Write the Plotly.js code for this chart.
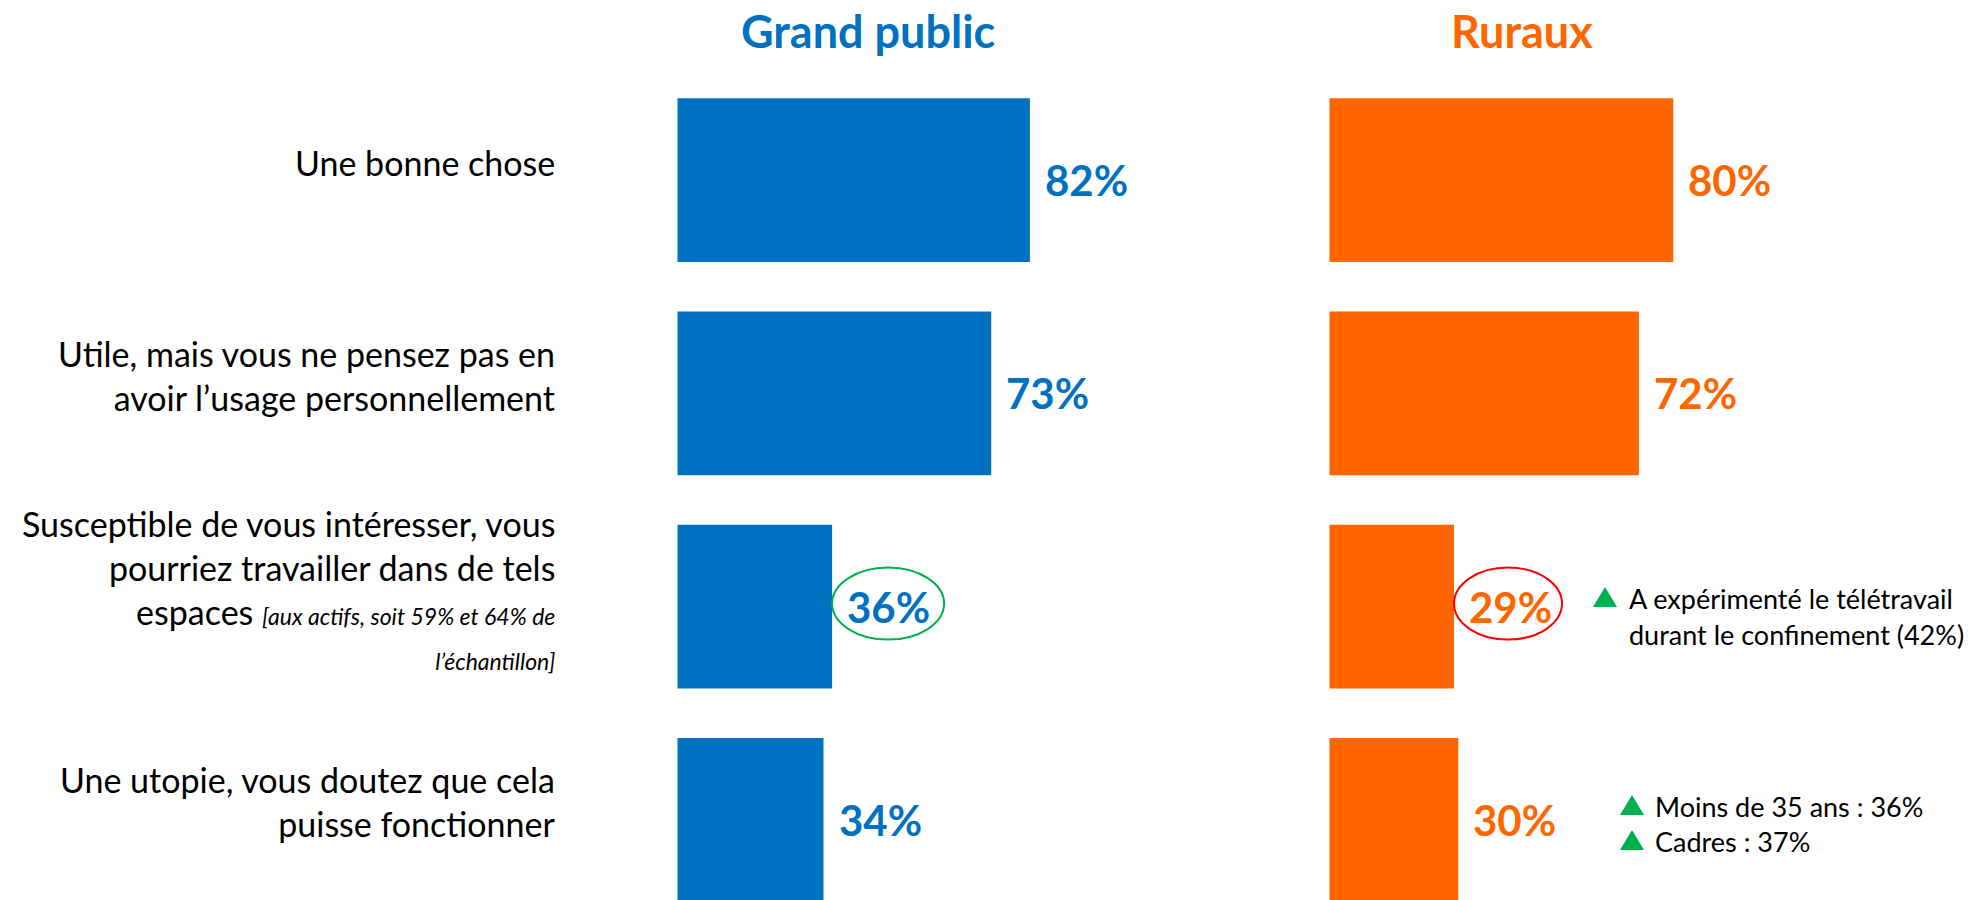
<!DOCTYPE html>
<html>
<head>
<meta charset="utf-8">
<script src="https://cdn.plot.ly/plotly-3.0.1.min.js"></script>
<style>
  html, body { margin: 0; padding: 0; background: #ffffff; }
  #chart { width: 1972px; height: 900px; }
</style>
</head>
<body>
<div id="chart"></div>
<script>
// ---- Data ----
const categories = [
  "Une bonne chose",
  "Utile, mais vous ne pensez pas en<br>avoir l’usage personnellement",
  "Susceptible de vous intéresser, vous<br>pourriez travailler dans de tels<br>espaces <i><span style=\"font-size:23px\">[aux actifs, soit 59% et 64% de</span></i><br><i><span style=\"font-size:23px\">l’échantillon]</span></i>",
  "Une utopie, vous doutez que cela<br>puisse fonctionner"
];
const seriesNames = ["Grand public", "Ruraux"];
const grandPublic = [82, 73, 36, 34];
const ruraux = [80, 72, 29, 30];
const highlightGrandPublic = [null, null, "#00B050", null];
const highlightRuraux = [null, null, "#FF0000", null];
const notesRuraux = [
  null,
  null,
  [["A expérimenté le télétravail", "durant le confinement (42%)"]],
  [["Moins de 35 ans : 36%"], ["Cadres : 37%"]]
];

// ---- Styles ----
const W = 1972, H = 900;
const BLUE = "#0070C0", ORANGE = "#FF6600", GREEN = "#00B050";
const FONT = "Lato, 'Open Sans', sans-serif";
const px = v => v / W;          // paper x from pixel
const py = v => 1 - v / H;      // paper y from pixel

const traces = [
  { type: "bar", orientation: "h", name: seriesNames[0], x: grandPublic, y: categories.map((c, i) => i),
    xaxis: "x", yaxis: "y", marker: { color: BLUE }, hoverinfo: "skip" },
  { type: "bar", orientation: "h", name: seriesNames[1], x: ruraux, y: categories.map((c, i) => i),
    xaxis: "x2", yaxis: "y", marker: { color: ORANGE }, hoverinfo: "skip" }
];

const annotations = [];
const shapes = [];

// Column titles
annotations.push({ xref: "paper", yref: "paper", x: px(868), y: py(31), xanchor: "center", yanchor: "middle",
  text: seriesNames[0], showarrow: false, font: { family: FONT, size: 45, weight: 700, color: BLUE } });
annotations.push({ xref: "paper", yref: "paper", x: px(1522), y: py(31), xanchor: "center", yanchor: "middle",
  text: seriesNames[1], showarrow: false, font: { family: FONT, size: 45, weight: 700, color: ORANGE } });

// Category labels
categories.forEach((c, i) => {
  annotations.push({ xref: "paper", yref: "y", x: px(557), y: i, xanchor: "right", yanchor: "middle",
    align: "right", yshift: 18, text: c, showarrow: false,
    font: { family: FONT, size: 34, color: "#000000" } });
});

// Value labels
[[grandPublic, "x", BLUE], [ruraux, "x2", ORANGE]].forEach(([vals, xr, col]) => {
  vals.forEach((v, i) => {
    annotations.push({ xref: xr, yref: "y", x: v, y: i, xanchor: "left", yanchor: "middle",
      xshift: 13, text: v + "%", showarrow: false,
      font: { family: FONT, size: 42, weight: 700, color: col } });
  });
});

// Highlight ellipses
[[grandPublic, "x", highlightGrandPublic, 112], [ruraux, "x2", highlightRuraux, 108]].forEach(([vals, xr, hl, w]) => {
  hl.forEach((col, i) => {
    if (!col) return;
    shapes.push({ type: "circle", xref: xr, yref: "y", xsizemode: "pixel", ysizemode: "pixel",
      xanchor: vals[i], yanchor: i, x0: 0, x1: w, y0: -33, y1: 39,
      line: { color: col, width: 2 }, fillcolor: "rgba(0,0,0,0)" });
  });
});

// Notes (green triangles + text)
const noteLayout = {
  2: { triX: 1593, textX: 1627, baselines: [607, 643] },
  3: { triX: 1620, textX: 1653, baselines: [815, 850] }
};
notesRuraux.forEach((blocks, i) => {
  if (!blocks) return;
  const L = noteLayout[i];
  let lineIdx = 0;
  blocks.forEach(lines => {
    const base = L.baselines[lineIdx];
    shapes.push({ type: "path", xref: "paper", yref: "paper", xsizemode: "pixel", ysizemode: "pixel",
      xanchor: px(L.triX), yanchor: py(base), path: "M0,0 L24,0 L12,20 Z",
      fillcolor: GREEN, line: { width: 0 } });
    lines.forEach(t => {
      const b = L.baselines[lineIdx];
      annotations.push({ xref: "paper", yref: "paper", x: px(L.textX), y: py(b - 9), xanchor: "left", yanchor: "middle",
        text: t, showarrow: false, font: { family: FONT, size: 27, color: "#000000" } });
      lineIdx++;
    });
  });
});

const hiddenAxis = { showgrid: false, zeroline: false, showticklabels: false, showline: false, ticks: "", fixedrange: true };

const layout = {
  width: W, height: H,
  margin: { l: 0, r: 0, t: 0, b: 0 },
  paper_bgcolor: "#ffffff", plot_bgcolor: "#ffffff",
  showlegend: false,
  bargap: 0.232,
  xaxis: Object.assign({}, hiddenAxis, { domain: [677.3 / W, (677.3 + 430) / W], range: [0, 100], anchor: "y" }),
  xaxis2: Object.assign({}, hiddenAxis, { domain: [1329.3 / W, (1329.3 + 430) / W], range: [0, 100], anchor: "y" }),
  yaxis: Object.assign({}, hiddenAxis, { domain: [0, 1], range: [3.3762, -0.8452] }),
  annotations: annotations,
  shapes: shapes
};

Plotly.newPlot("chart", traces, layout, { displayModeBar: false, staticPlot: true });
</script>
</body>
</html>
